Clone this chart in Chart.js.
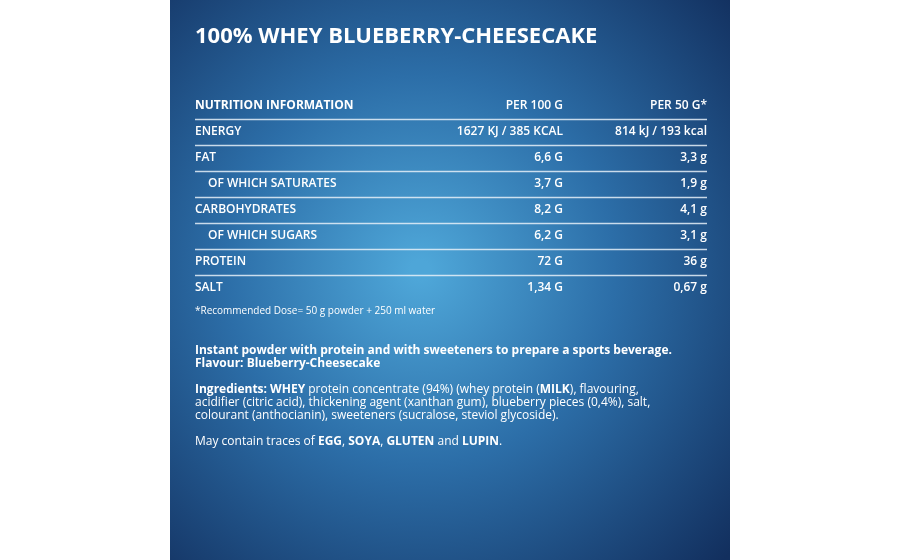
<!DOCTYPE html>
<html><head><meta charset="utf-8">
<script src="https://cdn.jsdelivr.net/npm/chart.js@4"></script>
<style>html,body{margin:0;background:#fff}#wrap{width:900px;height:560px}</style>
</head><body><div id="wrap"><canvas id="c"></canvas></div>
<script>
// label data
const title = '100% WHEY BLUEBERRY-CHEESECAKE';
const headers = ['NUTRITION INFORMATION', 'PER 100 G', 'PER 50 G*'];
const rows = ['ENERGY', 'FAT', 'OF WHICH SATURATES', 'CARBOHYDRATES', 'OF WHICH SUGARS', 'PROTEIN', 'SALT'];
const per100 = ['1627 KJ / 385 KCAL', '6,6 G', '3,7 G', '8,2 G', '6,2 G', '72 G', '1,34 G'];
const per50 = ['814 kJ / 193 kcal', '3,3 g', '1,9 g', '4,1 g', '3,1 g', '36 g', '0,67 g'];
const indented = [false, false, true, false, true, false, false];
const footnote = '*Recommended Dose= 50 g powder + 250 ml water';

const FONT = '"Open Sans", "DejaVu Sans", sans-serif';

// rich text: segments [text, bold]
const para = [
  { y: 351, segs: [['Instant powder with protein and with sweeteners to prepare a sports beverage.', true]] },
  { y: 364, segs: [['Flavour: Blueberry-Cheesecake', true]] },
  { y: 390, segs: [['Ingredients: WHEY', true], [' protein concentrate (94%) (whey protein (', false], ['MILK', true], ['), flavouring,', false]] },
  { y: 403, segs: [['acidifier (citric acid), thickening agent (xanthan gum), blueberry pieces (0,4%), salt,', false]] },
  { y: 416, segs: [['colourant (anthocianin), sweeteners (sucralose, steviol glycoside).', false]] },
  { y: 442, segs: [['May contain traces of ', false], ['EGG', true], [', ', false], ['SOYA', true], [', ', false], ['GLUTEN', true], [' and ', false], ['LUPIN', true], ['.', false]] }
];

const labelPlugin = {
  id: 'label',
  beforeDraw(chart) {
    const ctx = chart.ctx;
    ctx.save();
    ctx.fillStyle = '#fff';
    ctx.fillRect(0, 0, 900, 560);
    const g = ctx.createRadialGradient(420, 270, 10, 420, 270, 420);
    g.addColorStop(0, '#4ea6d8');
    g.addColorStop(0.45, '#2c6ea8');
    g.addColorStop(1, '#122f5e');
    ctx.fillStyle = g;
    ctx.fillRect(170, 0, 560, 560);
    ctx.restore();
  },
  afterDraw(chart) {
    const ctx = chart.ctx;
    const y = chart.scales.y;
    const L = 195, C2 = 563, C3 = 707;
    ctx.save();
    ctx.fillStyle = '#fff';
    ctx.textBaseline = 'middle';
    ctx.font = 'bold 22px ' + FONT;
    ctx.fillText(title, L, 37, 462);
    const allRows = [headers[0]].concat(rows);
    allRows.forEach((name, i) => {
      const cy = y.getPixelForValue(i);
      const isHead = i === 0;
      ctx.font = isHead ? 'bold 12px ' + FONT : '600 12px ' + FONT;
      ctx.textAlign = 'left';
      ctx.fillText(name, L + (!isHead && indented[i - 1] ? 13 : 0), cy);
      ctx.textAlign = 'right';
      ctx.font = '600 12px ' + FONT;
      ctx.fillText(isHead ? headers[1] : per100[i - 1], C2, cy);
      ctx.fillText(isHead ? headers[2] : per50[i - 1], C3, cy);
      if (i < allRows.length - 1) {
        const ly = Math.round(cy + 13) + 0.5;
        ctx.strokeStyle = 'rgba(230,240,248,0.85)';
        ctx.lineWidth = 1.3;
        ctx.beginPath(); ctx.moveTo(L, ly); ctx.lineTo(C3, ly); ctx.stroke();
      }
    });
    ctx.textAlign = 'left';
    ctx.font = '10px ' + FONT;
    ctx.fillText(footnote, L, 311);
    para.forEach(p => {
      let x = L;
      p.segs.forEach(([t, b]) => {
        ctx.font = (b ? 'bold ' : '') + '12px ' + FONT;
        ctx.fillText(t, x, p.y);
        x += ctx.measureText(t).width;
      });
    });
    ctx.restore();
  }
};

new Chart(document.getElementById('c'), {
  type: 'bar',
  data: { labels: [headers[0]].concat(rows), datasets: [] },
  options: {
    responsive: true, maintainAspectRatio: false, animation: false,
    layout: { padding: { top: 93, bottom: 259, left: 195, right: 193 } },
    indexAxis: 'y',
    plugins: { legend: { display: false }, tooltip: { enabled: false } },
    scales: {
      y: { type: 'category', display: false, offset: true },
      x: { display: false }
    }
  },
  plugins: [labelPlugin]
});
</script></body></html>
